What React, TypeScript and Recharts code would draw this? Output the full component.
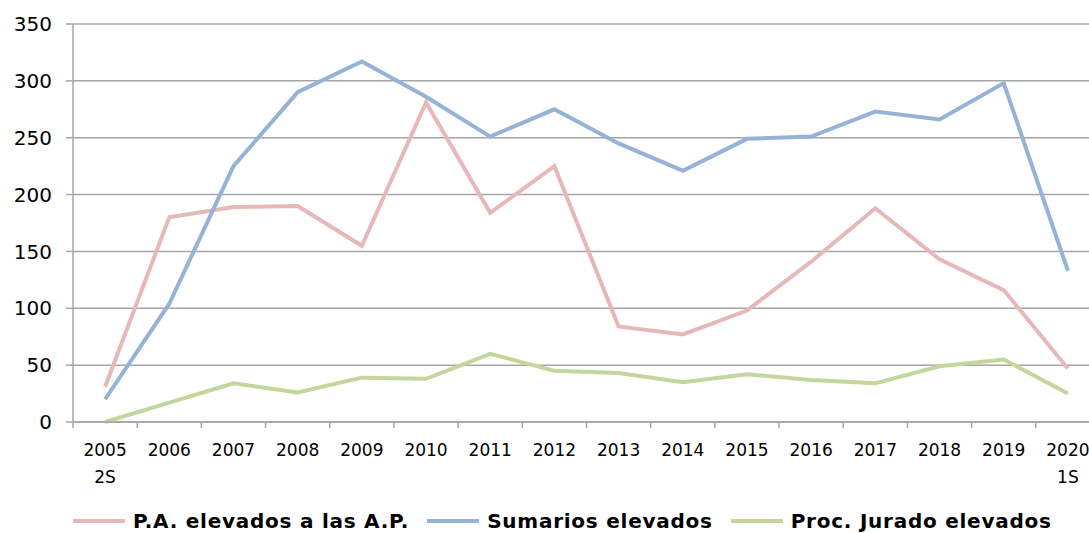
import React from 'react'
import { LineChart, Line, XAxis, YAxis, CartesianGrid, Legend } from 'recharts'

// categorías (semestre inicial / final en segunda línea)
const CATEGORIES = [
  '2005\n2S', '2006', '2007', '2008', '2009', '2010', '2011', '2012',
  '2013', '2014', '2015', '2016', '2017', '2018', '2019', '2020\n1S',
]

const PA_ELEVADOS = [31, 180, 189, 190, 155, 281, 184, 225, 84, 77, 98, 141, 188, 143, 116, 47]
const SUMARIOS_ELEVADOS = [20, 104, 225, 290, 317, 286, 251, 275, 245, 221, 249, 251, 273, 266, 298, 133]
const JURADO_ELEVADOS = [0, 17, 34, 26, 39, 38, 60, 45, 43, 35, 42, 37, 34, 49, 55, 25]

const Y_TICKS = [0, 50, 100, 150, 200, 250, 300, 350]

const SERIES = [
  { key: 'pa', name: 'P.A. elevados a las A.P.', color: '#E6B9B8', values: PA_ELEVADOS },
  { key: 'sum', name: 'Sumarios elevados', color: '#95B3D7', values: SUMARIOS_ELEVADOS },
  { key: 'jur', name: 'Proc. Jurado elevados', color: '#C3D69B', values: JURADO_ELEVADOS },
]

const data = CATEGORIES.map((cat, i) => {
  const row: Record<string, string | number> = { cat }
  SERIES.forEach(s => { row[s.key] = s.values[i] })
  return row
})

const FONT = '"DejaVu Sans", Verdana, sans-serif'
const GRID = '#A6A6A6'
const CHART_W = 1100
const Y_AXIS_W = 73
const HALF_BAND = (CHART_W - Y_AXIS_W) / CATEGORIES.length / 2

const XTick = (props: any) => {
  const { x, y, payload } = props
  const lines = String(payload.value).split('\n')
  return (
    <g>
      <line x1={x - HALF_BAND} x2={x - HALF_BAND} y1={y} y2={y + 6} stroke={GRID} strokeWidth={1.5} />
      {lines.map((t, i) => (
        <text key={i} x={x} y={y + 34 + i * 27} textAnchor="middle"
          fontSize={17} fontFamily={FONT} fill="#000">
          {t}
        </text>
      ))}
    </g>
  )
}

const LegendBox = () => (
  <div style={{ display: 'flex', alignItems: 'center', height: 24, lineHeight: '24px', fontFamily: FONT }}>
    {SERIES.map((s, i) => (
      <div key={s.key} style={{ display: 'flex', alignItems: 'center', marginLeft: i === 0 ? 0 : 18 }}>
        <div style={{ width: 52, height: 4, background: s.color, marginRight: 8 }} />
        <span style={{ fontSize: 20, letterSpacing: 0.75, fontWeight: 'bold', color: '#000', whiteSpace: 'nowrap' }}>{s.name}</span>
      </div>
    ))}
  </div>
)

export default function App() {
  return (
    <div style={{ position: 'absolute', left: 0, top: 0, width: 1089, height: 533, overflow: 'hidden', background: '#fff' }}>
      <LineChart width={CHART_W} height={533} data={data} margin={{ top: 24, right: 0, left: 0, bottom: 0 }}>
        <CartesianGrid vertical={false} stroke={GRID} strokeWidth={1.5} />
        <XAxis
          dataKey="cat"
          interval={0}
          height={87}
          padding={{ left: HALF_BAND, right: HALF_BAND }}
          axisLine={{ stroke: GRID, strokeWidth: 1.5 }}
          tickLine={false}
          tickSize={0}
          tickMargin={0}
          tick={(p: any) => <XTick {...p} />}
        />
        <YAxis
          width={Y_AXIS_W}
          domain={[0, 350]}
          ticks={Y_TICKS}
          interval={0}
          tickSize={7}
          tickMargin={14}
          axisLine={{ stroke: GRID, strokeWidth: 1.5 }}
          tickLine={{ stroke: GRID, strokeWidth: 1.5 }}
          tick={{ fontSize: 20, fontFamily: FONT, fill: '#000' }}
        />
        <Legend
          verticalAlign="bottom"
          content={() => <LegendBox />}
          wrapperStyle={{ left: 73, bottom: 0, width: 1010 }}
        />
        {SERIES.map(s => (
          <Line
            key={s.key}
            type="linear"
            dataKey={s.key}
            name={s.name}
            stroke={s.color}
            strokeWidth={4}
            dot={false}
            activeDot={false}
            isAnimationActive={false}
          />
        ))}
      </LineChart>
    </div>
  )
}
